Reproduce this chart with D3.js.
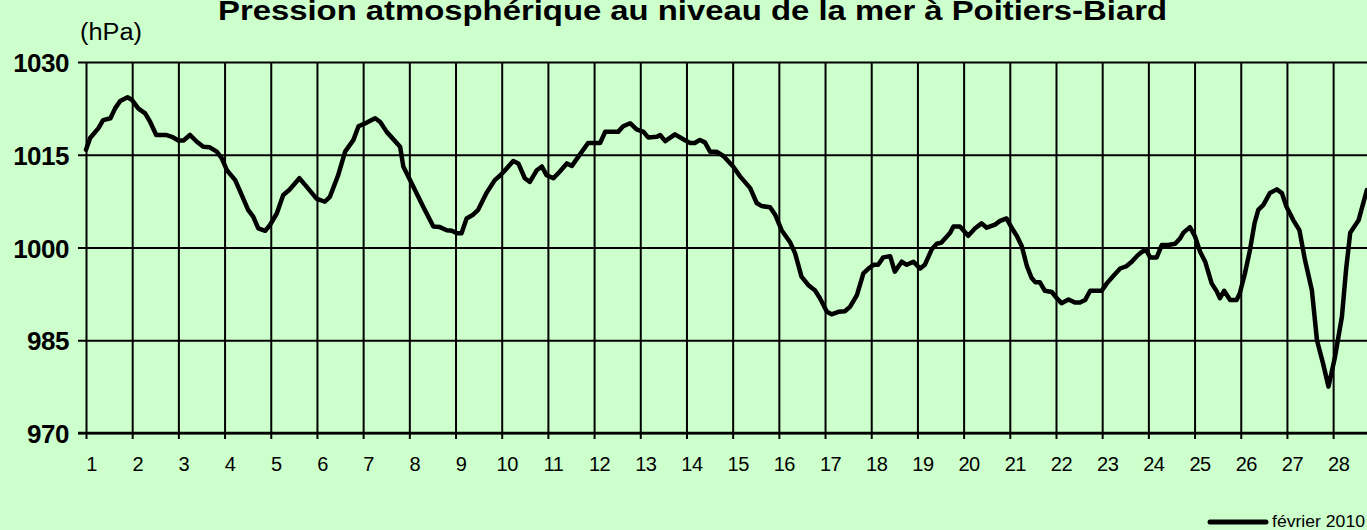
<!DOCTYPE html>
<html>
<head>
<meta charset="utf-8">
<script src="https://cdn.jsdelivr.net/npm/d3@7"></script>
<style>
  html, body { margin: 0; padding: 0; background: #ccffcc; overflow: hidden; }
  svg { display: block; }
</style>
</head>
<body>
<div id="chart"></div>
<script>
// Pression au niveau de la mer, Poitiers-Biard, février 2010 (relevés)
var jours = [
  1.00, 1.09, 1.27, 1.37, 1.53, 1.63, 1.74, 1.90, 1.99, 2.13, 2.28, 2.39, 2.52, 2.73, 2.86,
  3.00, 3.11, 3.25, 3.40, 3.54, 3.68, 3.83, 3.94, 4.05, 4.23, 4.37, 4.51, 4.62, 4.73, 4.88,
  4.98, 5.13, 5.27, 5.40, 5.62, 5.78, 5.99, 6.17, 6.28, 6.46, 6.61, 6.79, 6.90, 7.08, 7.26,
  7.37, 7.51, 7.80, 7.87, 8.09, 8.30, 8.52, 8.66, 8.81, 8.92, 9.03, 9.13, 9.24, 9.38, 9.49,
  9.67, 9.85, 9.96, 10.11, 10.25, 10.36, 10.50, 10.61, 10.76, 10.87, 10.97, 11.12, 11.26, 11.41, 11.52,
  11.66, 11.87, 12.13, 12.24, 12.52, 12.63, 12.78, 12.92, 13.07, 13.17, 13.36, 13.43, 13.54, 13.75, 13.93,
  14.08, 14.18, 14.29, 14.40, 14.51, 14.65, 14.80, 15.01, 15.16, 15.38, 15.52, 15.63, 15.81, 15.92, 16.06,
  16.24, 16.35, 16.49, 16.64, 16.78, 16.89, 17.04, 17.14, 17.29, 17.43, 17.54, 17.69, 17.83, 17.94, 18.05,
  18.15, 18.26, 18.41, 18.51, 18.66, 18.77, 18.91, 19.06, 19.16, 19.31, 19.42, 19.52, 19.71, 19.78, 19.92,
  20.10, 20.25, 20.39, 20.50, 20.68, 20.79, 20.93, 21.04, 21.15, 21.26, 21.37, 21.47, 21.55, 21.65, 21.76,
  21.91, 22.02, 22.12, 22.27, 22.41, 22.52, 22.63, 22.74, 22.99, 23.10, 23.24, 23.39, 23.53, 23.64, 23.75,
  23.86, 23.95, 24.04, 24.18, 24.29, 24.43, 24.58, 24.69, 24.76, 24.90, 25.01, 25.12, 25.23, 25.37, 25.48,
  25.55, 25.64, 25.77, 25.91, 25.98, 26.09, 26.20, 26.30, 26.38, 26.49, 26.63, 26.78, 26.89, 26.99, 27.14,
  27.27, 27.39, 27.54, 27.65, 27.78, 27.90, 28.04, 28.19, 28.28, 28.37, 28.55, 28.73
];
var pression = [
  1015.8, 1017.7, 1019.3, 1020.6, 1020.9, 1022.5, 1023.7, 1024.3, 1023.9, 1022.5, 1021.7, 1020.3, 1018.2, 1018.2, 1017.9,
  1017.3, 1017.3, 1018.2, 1017.1, 1016.3, 1016.2, 1015.5, 1014.4, 1012.5, 1010.9, 1008.5, 1006.1, 1005.0, 1003.1, 1002.7,
  1003.6, 1005.5, 1008.5, 1009.3, 1011.2, 1009.8, 1007.9, 1007.4, 1008.2, 1011.7, 1015.5, 1017.4, 1019.6, 1020.2, 1020.9,
  1020.3, 1018.7, 1016.3, 1013.1, 1009.8, 1006.6, 1003.4, 1003.3, 1002.8, 1002.7, 1002.3, 1002.3, 1004.7, 1005.3, 1006.1,
  1008.8, 1010.9, 1011.6, 1012.8, 1014.0, 1013.6, 1011.2, 1010.6, 1012.5, 1013.1, 1011.7, 1011.2, 1012.3, 1013.6, 1013.2,
  1014.7, 1016.9, 1016.9, 1018.7, 1018.7, 1019.6, 1020.1, 1019.1, 1018.7, 1017.8, 1017.9, 1018.2, 1017.2, 1018.3, 1017.5,
  1016.9, 1016.9, 1017.4, 1017.0, 1015.5, 1015.5, 1014.8, 1013.1, 1011.5, 1009.6, 1007.2, 1006.7, 1006.5, 1005.3, 1002.8,
  1000.9, 999.1, 995.3, 993.9, 993.1, 991.8, 989.6, 989.2, 989.6, 989.7, 990.4, 992.3, 995.8, 996.6, 997.2,
  997.2, 998.4, 998.6, 996.1, 997.7, 997.2, 997.7, 996.6, 997.2, 999.7, 1000.6, 1000.8, 1002.4, 1003.4, 1003.4,
  1001.9, 1003.1, 1003.9, 1003.2, 1003.7, 1004.3, 1004.7, 1003.2, 1001.9, 1000.2, 997.0, 995.1, 994.4, 994.4, 993.0,
  992.8, 991.8, 991.0, 991.6, 991.1, 991.1, 991.5, 993.0, 993.0, 994.2, 995.4, 996.6, 997.0, 997.7, 998.6,
  999.3, 999.6, 998.4, 998.4, 1000.4, 1000.4, 1000.6, 1001.5, 1002.4, 1003.3, 1001.8, 999.3, 997.7, 994.2, 992.9,
  991.8, 993.0, 991.5, 991.5, 992.6, 995.8, 999.6, 1004.0, 1006.1, 1006.9, 1008.8, 1009.4, 1008.8, 1006.6, 1004.4,
  1002.8, 998.0, 993.1, 985.0, 981.3, 977.5, 982.3, 988.8, 996.4, 1002.4, 1004.4, 1009.3
];
var joursTicks = [1, 2, 3, 4, 5, 6, 7, 8, 9, 10, 11, 12, 13, 14, 15, 16, 17, 18, 19, 20, 21, 22, 23, 24, 25, 26, 27, 28];
var pressionTicks = [970, 985, 1000, 1015, 1030];
var titre = "Pression atmosphérique au niveau de la mer à Poitiers-Biard";
var unite = "(hPa)";
var legende = "février 2010";

var W = 1367, H = 530;
var margin = {top: 62, left: 86, bottom: 97},
    height = H - margin.top - margin.bottom,
    dayW = 46.19,
    width = 28 * dayW;

var svg = d3.select("#chart")
  .append("svg")
    .attr("width", W)
    .attr("height", H)
    .style("font-family", "'Liberation Sans', Arial, sans-serif");

svg.append("rect")
  .attr("width", W).attr("height", H)
  .attr("fill", "#ccffcc");

var g = svg.append("g")
  .attr("transform", "translate(" + margin.left + "," + margin.top + ")");

var x = d3.scaleLinear().domain([1, 29]).range([0, width]);
var y = d3.scaleLinear().domain([970, 1030]).range([height, 0]);

// Y axis + horizontal grid
var yAxis = g.append("g")
  .call(d3.axisLeft(y).tickValues(pressionTicks).tickSize(8).tickFormat(d3.format("d")));
yAxis.select(".domain").remove();
yAxis.selectAll(".tick line")
  .attr("x2", width)
  .attr("x1", -8)
  .attr("stroke", "#000")
  .attr("stroke-width", 2);
yAxis.selectAll(".tick text")
  .attr("x", -17)
  .attr("dy", "0.37em")
  .style("font-size", "26px")
  .style("font-weight", "bold")
  .style("letter-spacing", "-0.5px")
  .attr("fill", "#000");

// X axis + vertical grid
var xAxis = g.append("g")
  .attr("transform", "translate(0," + height + ")")
  .call(d3.axisBottom(x).tickValues(joursTicks).tickSize(6).tickFormat(d3.format("d")));
xAxis.select(".domain").remove();
xAxis.selectAll(".tick line")
  .attr("y1", -height)
  .attr("y2", 6)
  .attr("stroke", "#000")
  .attr("stroke-width", 2);
xAxis.selectAll(".tick text")
  .attr("y", 38)
  .attr("dy", 0)
  .attr("dx", 5)
  .style("font-size", "20px")
  .style("letter-spacing", "-0.5px")
  .attr("fill", "#000");

// bottom axis line
g.append("line")
  .attr("x1", -8).attr("x2", width)
  .attr("y1", y(970)).attr("y2", y(970))
  .attr("stroke", "#000").attr("stroke-width", 2.5);

// pressure curve
var points = jours.map(function(d, i) { return [d, pression[i]]; });
var line = d3.line()
  .x(function(d) { return x(d[0]); })
  .y(function(d) { return y(d[1]); });

g.append("path")
  .datum(points)
  .attr("d", line)
  .attr("fill", "none")
  .attr("stroke", "#000")
  .attr("stroke-width", 4.5)
  .attr("stroke-linejoin", "round")
  .attr("stroke-linecap", "round");

// title
svg.append("text")
  .attr("x", 218)
  .attr("y", 20)
  .attr("textLength", 949)
  .attr("lengthAdjust", "spacingAndGlyphs")
  .style("font-size", "28px")
  .style("font-weight", "bold")
  .text(titre);

// unit
svg.append("text")
  .attr("x", 80)
  .attr("y", 40)
  .attr("textLength", 62)
  .attr("lengthAdjust", "spacingAndGlyphs")
  .style("font-size", "23px")
  .text(unite);

// legend
svg.append("line")
  .attr("x1", 1210).attr("x2", 1266)
  .attr("y1", 522).attr("y2", 522)
  .attr("stroke", "#000")
  .attr("stroke-width", 5)
  .attr("stroke-linecap", "round");
svg.append("text")
  .attr("x", 1272)
  .attr("y", 527)
  .attr("textLength", 93)
  .attr("lengthAdjust", "spacingAndGlyphs")
  .style("font-size", "17px")
  .text(legende);
</script>
</body>
</html>
